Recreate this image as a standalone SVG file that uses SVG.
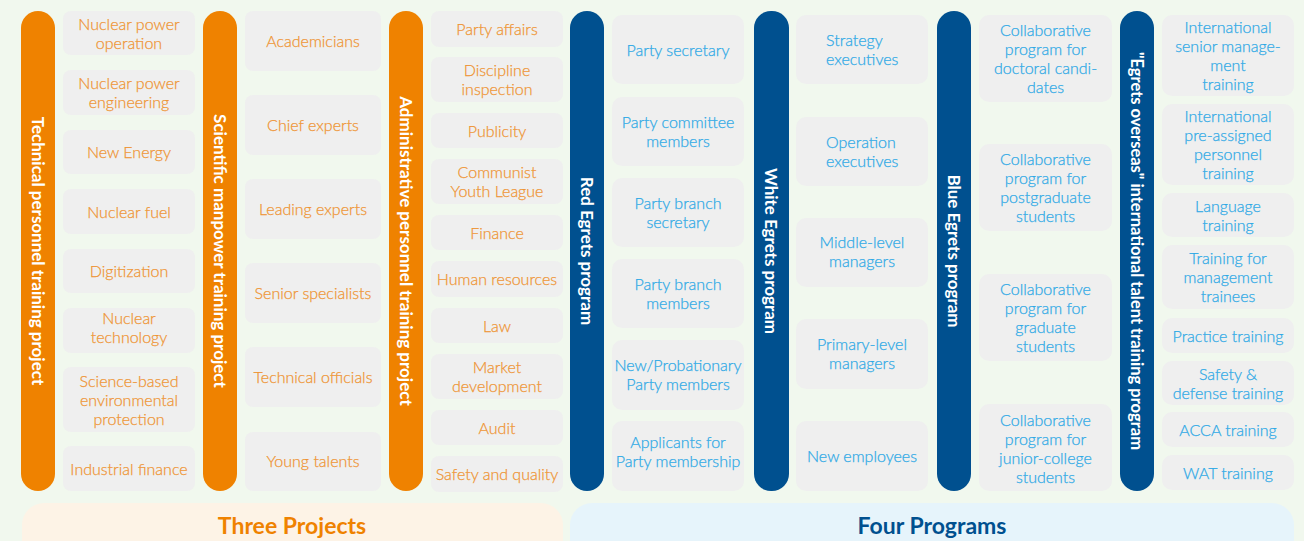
<svg xmlns="http://www.w3.org/2000/svg" width="1304" height="541" viewBox="0 0 1304 541">
<style>
.bg{fill:#f1f8ee}
.bo{fill:#ef8200}
.bb{fill:#00508f}
.box{fill:#efefef}
.bt{font-family:Lato,"Noto Sans",sans-serif;font-weight:bold;font-size:17px;fill:#ffffff;text-anchor:middle;dominant-baseline:central}
.to{font-family:Lato,"Noto Sans",sans-serif;font-weight:300;font-size:16px;fill:#ee9433;stroke:#ee9433;stroke-width:0.25px;text-anchor:middle}
.tb{font-family:Lato,"Noto Sans",sans-serif;font-weight:300;font-size:16px;fill:#2ea9e6;stroke:#2ea9e6;stroke-width:0.25px;text-anchor:middle}
.l{text-anchor:start}
.bandO{fill:#fdf3e6}
.bandB{fill:#e6f4fb}
.h{font-family:Lato,"Noto Sans",sans-serif;font-weight:bold;font-size:23px;text-anchor:middle}
</style>
<rect class="bg" x="0" y="0" width="1304" height="541"/>
<g id="connectors"/>

<g id="band-three"><rect class="bandO" x="22" y="503" width="541" height="80" rx="22"/><text class="h" x="292" y="534" fill="#ef8200">Three Projects</text></g>
<g id="band-four"><rect class="bandB" x="570" y="503" width="724" height="80" rx="22"/><text class="h" x="932" y="534" fill="#00508f">Four Programs</text></g>

<g id="bar-technical"><rect class="bo" x="21" y="11" width="34" height="480" rx="17"/><text class="bt" transform="rotate(90 38 251)" x="38" y="251">Technical personnel training project</text></g>
<g id="bar-scientific"><rect class="bo" x="203" y="11" width="34" height="480" rx="17"/><text class="bt" transform="rotate(90 220 251)" x="220" y="251">Scientific manpower training project</text></g>
<g id="bar-admin"><rect class="bo" x="389" y="11" width="34" height="480" rx="17"/><text class="bt" transform="rotate(90 406 251)" x="406" y="251">Administrative personnel training project</text></g>
<g id="bar-red"><rect class="bb" x="570" y="11" width="34" height="480" rx="17"/><text class="bt" transform="rotate(90 587 251)" x="587" y="251">Red Egrets program</text></g>
<g id="bar-white"><rect class="bb" x="754" y="11" width="35" height="480" rx="17"/><text class="bt" transform="rotate(90 771.5 251)" x="771.5" y="251">White Egrets program</text></g>
<g id="bar-blue"><rect class="bb" x="937" y="11" width="34" height="480" rx="17"/><text class="bt" transform="rotate(90 954 251)" x="954" y="251">Blue Egrets program</text></g>
<g id="bar-overseas"><rect class="bb" x="1120" y="11" width="34" height="480" rx="17"/><text class="bt" style="font-size:16.5px" transform="rotate(90 1137 251)" x="1137" y="251">"Egrets overseas" international talent training program</text></g>

<!-- Column 1 -->
<g id="c1-1"><rect class="box" x="63" y="11" width="132" height="44" rx="8"/><text class="to" x="129"><tspan x="129" y="30">Nuclear power</tspan><tspan x="129" y="49">operation</tspan></text></g>
<g id="c1-2"><rect class="box" x="63" y="70" width="132" height="45" rx="8"/><text class="to" x="129"><tspan x="129" y="89">Nuclear power</tspan><tspan x="129" y="108">engineering</tspan></text></g>
<g id="c1-3"><rect class="box" x="63" y="130" width="132" height="44" rx="8"/><text class="to" x="129" y="158">New Energy</text></g>
<g id="c1-4"><rect class="box" x="63" y="189" width="132" height="45" rx="8"/><text class="to" x="129" y="218">Nuclear fuel</text></g>
<g id="c1-5"><rect class="box" x="63" y="249" width="132" height="44" rx="8"/><text class="to" x="129" y="277">Digitization</text></g>
<g id="c1-6"><rect class="box" x="63" y="308" width="132" height="45" rx="8"/><text class="to" x="129"><tspan x="129" y="324">Nuclear</tspan><tspan x="129" y="343">technology</tspan></text></g>
<g id="c1-7"><rect class="box" x="63" y="367" width="132" height="65" rx="8"/><text class="to" x="129"><tspan x="129" y="387">Science-based</tspan><tspan x="129" y="406">environmental</tspan><tspan x="129" y="425">protection</tspan></text></g>
<g id="c1-8"><rect class="box" x="63" y="446" width="132" height="45" rx="8"/><text class="to" x="129" y="475">Industrial finance</text></g>

<!-- Column 2 -->
<g id="c2-1"><rect class="box" x="245" y="11" width="136" height="60" rx="8"/><text class="to" x="313" y="47">Academicians</text></g>
<g id="c2-2"><rect class="box" x="245" y="95" width="136" height="60" rx="8"/><text class="to" x="313" y="131">Chief experts</text></g>
<g id="c2-3"><rect class="box" x="245" y="179" width="136" height="60" rx="8"/><text class="to" x="313" y="215">Leading experts</text></g>
<g id="c2-4"><rect class="box" x="245" y="263" width="136" height="60" rx="8"/><text class="to" x="313" y="299">Senior specialists</text></g>
<g id="c2-5"><rect class="box" x="245" y="347" width="136" height="60" rx="8"/><text class="to" x="313" y="383">Technical officials</text></g>
<g id="c2-6"><rect class="box" x="245" y="432" width="136" height="59" rx="8"/><text class="to" x="313" y="467">Young talents</text></g>

<!-- Column 3 -->
<g id="c3-1"><rect class="box" x="431" y="11" width="132" height="36" rx="8"/><text class="to" x="497" y="35">Party affairs</text></g>
<g id="c3-2"><rect class="box" x="431" y="57" width="132" height="45" rx="8"/><text class="to" x="497"><tspan x="497" y="76">Discipline</tspan><tspan x="497" y="95">inspection</tspan></text></g>
<g id="c3-3"><rect class="box" x="431" y="113" width="132" height="35" rx="8"/><text class="to" x="497" y="137">Publicity</text></g>
<g id="c3-4"><rect class="box" x="431" y="159" width="132" height="45" rx="8"/><text class="to" x="497"><tspan x="497" y="178">Communist</tspan><tspan x="497" y="197">Youth League</tspan></text></g>
<g id="c3-5"><rect class="box" x="431" y="215" width="132" height="35" rx="8"/><text class="to" x="497" y="239">Finance</text></g>
<g id="c3-6"><rect class="box" x="431" y="261" width="132" height="36" rx="8"/><text class="to" x="497" y="285">Human resources</text></g>
<g id="c3-7"><rect class="box" x="431" y="308" width="132" height="35" rx="8"/><text class="to" x="497" y="332">Law</text></g>
<g id="c3-8"><rect class="box" x="431" y="354" width="132" height="45" rx="8"/><text class="to" x="497"><tspan x="497" y="373">Market</tspan><tspan x="497" y="392">development</tspan></text></g>
<g id="c3-9"><rect class="box" x="431" y="410" width="132" height="35" rx="8"/><text class="to" x="497" y="434">Audit</text></g>
<g id="c3-10"><rect class="box" x="431" y="456" width="132" height="36" rx="8"/><text class="to" x="497" y="480">Safety and quality</text></g>

<!-- Column 4 -->
<g id="c4-1"><rect class="box" x="612" y="15" width="132" height="69" rx="10"/><text class="tb" x="678" y="56">Party secretary</text></g>
<g id="c4-2"><rect class="box" x="612" y="97" width="132" height="69" rx="10"/><text class="tb" x="678"><tspan x="678" y="128">Party committee</tspan><tspan x="678" y="147">members</tspan></text></g>
<g id="c4-3"><rect class="box" x="612" y="178" width="132" height="69" rx="10"/><text class="tb" x="678"><tspan x="678" y="209">Party branch</tspan><tspan x="678" y="228">secretary</tspan></text></g>
<g id="c4-4"><rect class="box" x="612" y="259" width="132" height="69" rx="10"/><text class="tb" x="678"><tspan x="678" y="290">Party branch</tspan><tspan x="678" y="309">members</tspan></text></g>
<g id="c4-5"><rect class="box" x="612" y="340" width="132" height="70" rx="10"/><text class="tb" x="678"><tspan x="678" y="371">New/Probationary</tspan><tspan x="678" y="390">Party members</tspan></text></g>
<g id="c4-6"><rect class="box" x="612" y="421" width="132" height="70" rx="10"/><text class="tb" x="678"><tspan x="678" y="448">Applicants for</tspan><tspan x="678" y="467">Party membership</tspan></text></g>

<!-- Column 5 -->
<g id="c5-1"><rect class="box" x="796" y="15" width="132" height="69" rx="10"/><text class="tb l" x="826"><tspan x="826" y="46">Strategy</tspan><tspan x="826" y="65">executives</tspan></text></g>
<g id="c5-2"><rect class="box" x="796" y="117" width="132" height="69" rx="10"/><text class="tb l" x="826"><tspan x="826" y="148">Operation</tspan><tspan x="826" y="167">executives</tspan></text></g>
<g id="c5-3"><rect class="box" x="796" y="218" width="132" height="69" rx="10"/><text class="tb" x="862"><tspan x="862" y="248">Middle-level</tspan><tspan x="862" y="267">managers</tspan></text></g>
<g id="c5-4"><rect class="box" x="796" y="319" width="132" height="70" rx="10"/><text class="tb" x="862"><tspan x="862" y="350">Primary-level</tspan><tspan x="862" y="369">managers</tspan></text></g>
<g id="c5-5"><rect class="box" x="796" y="421" width="132" height="70" rx="10"/><text class="tb" x="862" y="462">New employees</text></g>

<!-- Column 6 -->
<g id="c6-1"><rect class="box" x="979" y="15" width="133" height="87" rx="10"/><text class="tb" x="1045.5"><tspan x="1045.5" y="36">Collaborative</tspan><tspan x="1045.5" y="55">program for</tspan><tspan x="1045.5" y="74">doctoral candi-</tspan><tspan x="1045.5" y="93">dates</tspan></text></g>
<g id="c6-2"><rect class="box" x="979" y="144" width="133" height="87" rx="10"/><text class="tb" x="1045.5"><tspan x="1045.5" y="165">Collaborative</tspan><tspan x="1045.5" y="184">program for</tspan><tspan x="1045.5" y="203">postgraduate</tspan><tspan x="1045.5" y="222">students</tspan></text></g>
<g id="c6-3"><rect class="box" x="979" y="274" width="133" height="87" rx="10"/><text class="tb" x="1045.5"><tspan x="1045.5" y="295">Collaborative</tspan><tspan x="1045.5" y="314">program for</tspan><tspan x="1045.5" y="333">graduate</tspan><tspan x="1045.5" y="352">students</tspan></text></g>
<g id="c6-4"><rect class="box" x="979" y="404" width="133" height="87" rx="10"/><text class="tb" x="1045.5"><tspan x="1045.5" y="426">Collaborative</tspan><tspan x="1045.5" y="445">program for</tspan><tspan x="1045.5" y="464">junior-college</tspan><tspan x="1045.5" y="483">students</tspan></text></g>

<!-- Column 7 -->
<g id="c7-1"><rect class="box" x="1162" y="15" width="132" height="81" rx="10"/><text class="tb" x="1228"><tspan x="1228" y="33">International</tspan><tspan x="1228" y="52">senior manage-</tspan><tspan x="1228" y="71">ment</tspan><tspan x="1228" y="90">training</tspan></text></g>
<g id="c7-2"><rect class="box" x="1162" y="104" width="132" height="81" rx="10"/><text class="tb" x="1228"><tspan x="1228" y="122">International</tspan><tspan x="1228" y="141">pre-assigned</tspan><tspan x="1228" y="160">personnel</tspan><tspan x="1228" y="179">training</tspan></text></g>
<g id="c7-3"><rect class="box" x="1162" y="193" width="132" height="44" rx="10"/><text class="tb" x="1228"><tspan x="1228" y="212">Language</tspan><tspan x="1228" y="231">training</tspan></text></g>
<g id="c7-4"><rect class="box" x="1162" y="245" width="132" height="64" rx="10"/><text class="tb" x="1228"><tspan x="1228" y="264">Training for</tspan><tspan x="1228" y="283">management</tspan><tspan x="1228" y="302">trainees</tspan></text></g>
<g id="c7-5"><rect class="box" x="1162" y="318" width="132" height="35" rx="10"/><text class="tb" x="1228" y="342">Practice training</text></g>
<g id="c7-6"><rect class="box" x="1162" y="361" width="132" height="44" rx="10"/><text class="tb" x="1228"><tspan x="1228" y="380">Safety &amp;</tspan><tspan x="1228" y="399">defense training</tspan></text></g>
<g id="c7-7"><rect class="box" x="1162" y="412" width="132" height="35" rx="10"/><text class="tb" x="1228" y="436">ACCA training</text></g>
<g id="c7-8"><rect class="box" x="1162" y="455" width="132" height="35" rx="10"/><text class="tb" x="1228" y="479">WAT training</text></g>
</svg>
